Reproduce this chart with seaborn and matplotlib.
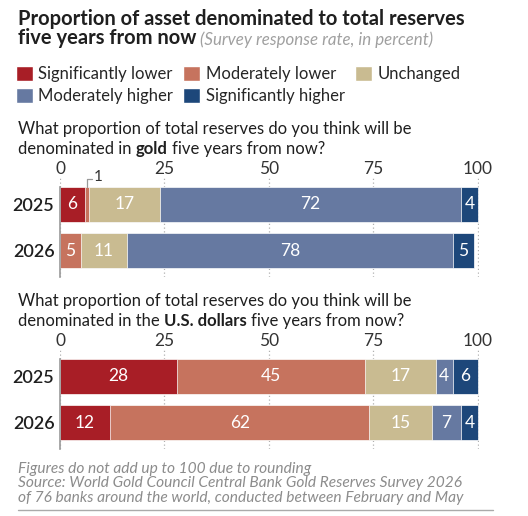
import pandas as pd
import matplotlib.pyplot as plt
import seaborn as sns
from matplotlib.patches import Patch

# data
years = ["2025", "2026"]
categories = ["Significantly lower", "Moderately lower", "Unchanged",
              "Moderately higher", "Significantly higher"]
colors = ["#A81E26", "#C6735E", "#C9BB91", "#6679A1", "#1D477A"]
gold_2025 = [6, 1, 17, 72, 4]
gold_2026 = [0, 5, 11, 78, 5]
usd_2025 = [28, 45, 17, 4, 6]
usd_2026 = [12, 62, 15, 7, 4]
ticks = [0, 25, 50, 75, 100]

sns.set_theme(style="white")
plt.rcParams["font.family"] = ["Lato", "DejaVu Sans"]

W, H = 528, 516
fig = plt.figure(figsize=(W / 100, H / 100), dpi=100)

# background axes in pixel coordinates for the free text
bg = fig.add_axes([0, 0, 1, 1])
bg.set_xlim(0, W)
bg.set_ylim(H, 0)
bg.axis("off")

DARK = "#1f1f1f"
GREY = "#8c8c8c"


def panel(top_px, rows, one_label=False):
    ax = fig.add_axes([60 / W, 1 - (top_px + 99) / H, 419 / W, 99 / H])
    df = pd.DataFrame(rows, index=years, columns=categories)
    cum = df.cumsum(axis=1)
    # stack by layering cumulative totals, widest first
    for cat, col in reversed(list(zip(categories, colors))):
        sns.barplot(x=cum[cat].values, y=years, orient="h", color=col,
                    saturation=1, width=0.77, edgecolor="white",
                    linewidth=0.5, ax=ax)
    for i, yr in enumerate(years):
        for cat in categories:
            v = df.loc[yr, cat]
            if v < 2:
                continue
            ax.text(cum.loc[yr, cat] - v / 2, i, str(v), ha="center",
                    va="center", color="white", fontsize=12.5)
    if one_label:
        x1 = cum.loc["2025", "Moderately lower"] - 0.5
        ax.plot([x1, x1, x1 + 1.2], [-0.385, -0.56, -0.56], color="#999999",
                lw=0.9, clip_on=False)
        ax.text(x1 + 1.6, -0.6, "1", ha="left", va="center", fontsize=11,
                color="#333333")
    ax.set_xlim(0, 100.3)
    ax.set_ylim(1.576, -0.576)
    ax.set_xticks(ticks)
    ax.set_xlabel("")
    ax.set_ylabel("")
    ax.xaxis.tick_top()
    ax.tick_params(axis="x", length=0, pad=1, labelsize=12.5,
                   labelcolor="#333333")
    ax.tick_params(axis="y", length=0, pad=4, labelsize=13,
                   labelcolor=DARK)
    for lab in ax.get_yticklabels():
        lab.set_fontweight("semibold")
    ax.grid(axis="x", linestyle=(0, (1, 2)), color="#b0b0b0", lw=0.9)
    ax.set_axisbelow(True)
    for s in ax.spines.values():
        s.set_visible(False)
    ax.spines["left"].set_visible(True)
    ax.spines["left"].set_bounds(-0.385, 1.576)
    ax.spines["left"].set_color("#999999")
    ax.spines["left"].set_linewidth(1.2)
    return ax


panel(178, [gold_2025, gold_2026], one_label=True)
panel(350, [usd_2025, usd_2026])

# title
bg.text(18, 25, "Proportion of asset denominated to total reserves",
        fontsize=14.5, weight="bold", color=DARK, va="baseline")
t2 = bg.text(18, 44.5, "five years from now", fontsize=14.5, weight="bold",
             color=DARK, va="baseline")
bg.annotate(" (Survey response rate, in percent)", xy=(1, 0), xycoords=t2,
            ha="left", va="bottom", fontsize=12.2, style="italic",
            color="#a0a0a0")

# legend: row 1 = lower/unchanged, row 2 = higher
handles = [Patch(facecolor=c, label=l) for c, l in zip(colors, categories)]
order = [0, 3, 1, 4, 2]
fig.legend(handles=[handles[i] for i in order], ncol=3, loc="upper left",
           bbox_to_anchor=(16 / W, 1 - 66 / H), frameon=False,
           prop={"size": 12}, handlelength=1.0,
           handleheight=1.0, handletextpad=0.35, columnspacing=0.6,
           labelspacing=0.35, borderpad=0, borderaxespad=0)


def question(y, pre, bold, post):
    bg.text(18, y, "What proportion of total reserves do you think will be",
            fontsize=12, color=DARK, va="center")
    a = bg.text(18, y + 20, pre, fontsize=12, color=DARK, va="center")
    b = bg.annotate(bold, xy=(1, 0), xycoords=a, xytext=(3, 0),
                    textcoords="offset points", ha="left", va="bottom",
                    fontsize=12, weight="bold", color=DARK)
    bg.annotate(post, xy=(1, 0), xycoords=b, xytext=(3, 0),
                textcoords="offset points", ha="left", va="bottom",
                fontsize=12, color=DARK)


question(129, "denominated in", "gold", "five years from now?")
question(301, "denominated in the", "U.S. dollars", "five years from now?")

# footer
notes = ["Figures do not add up to 100 due to rounding",
         "Source: World Gold Council Central Bank Gold Reserves Survey 2026",
         "of 76 banks around the world, conducted between February and May"]
for k, line in enumerate(notes):
    bg.text(18, 469 + 14.5 * k, line, fontsize=11.2, style="italic",
            color=GREY, va="center")
bg.plot([18, 493], [510, 510], color="#aaaaaa", lw=1)

fig.savefig("out.png", dpi=100)
